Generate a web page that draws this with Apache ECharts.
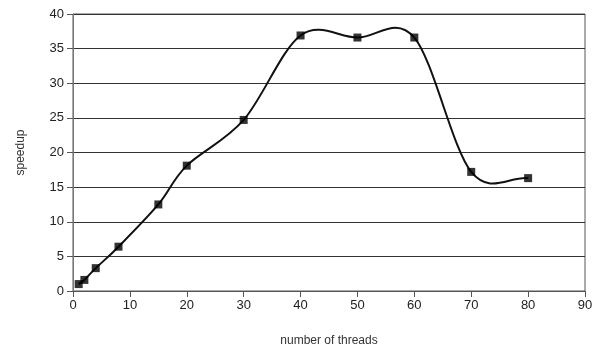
<!DOCTYPE html>
<html>
<head>
<meta charset="utf-8">
<script src="https://cdn.jsdelivr.net/npm/echarts@6/dist/echarts.min.js"></script>
<style>
  html, body { margin: 0; padding: 0; background: #fff; }
  #chart { width: 599px; height: 352px; }
</style>
</head>
<body>
<div id="chart"></div>
<script>
const threads = [1, 2, 4, 8, 15, 20, 30, 40, 50, 60, 70, 80];
const speedup = [1.0, 1.6, 3.3, 6.4, 12.5, 18.1, 24.7, 36.9, 36.6, 36.6, 17.2, 16.3];

const points = threads.map((t, i) => [t, speedup[i]]);

const chart = echarts.init(document.getElementById("chart"));

const labelFont = { fontFamily: "Liberation Sans, Arial, sans-serif", fontSize: 13, color: "#222" };
const nameFont = { fontFamily: "Liberation Sans, Arial, sans-serif", fontSize: 12, color: "#333" };

// spreadsheet-style smoothed line: one cubic segment per pair of points,
// control points from the neighbours (catmull-rom), in pixel space.
// ends use a mirrored phantom point
function renderSegment(params, api) {
  const i = params.dataIndex;
  const n = points.length;
  if (i >= n - 1) return;
  const p = (k) => {
    if (k < 0) {
      const a = api.coord(points[0]), b = api.coord(points[1]);
      return [2 * a[0] - b[0], 2 * a[1] - b[1]];
    }
    if (k > n - 1) {
      const a = api.coord(points[n - 1]), b = api.coord(points[n - 2]);
      return [2 * a[0] - b[0], 2 * a[1] - b[1]];
    }
    return api.coord(points[k]);
  };
  const p0 = p(i - 1), p1 = p(i), p2 = p(i + 1), p3 = p(i + 2);
  return {
    type: "bezierCurve",
    shape: {
      x1: p1[0], y1: p1[1],
      x2: p2[0], y2: p2[1],
      cpx1: p1[0] + (p2[0] - p0[0]) / 6,
      cpy1: p1[1] + (p2[1] - p0[1]) / 6,
      cpx2: p2[0] - (p3[0] - p1[0]) / 6,
      cpy2: p2[1] - (p3[1] - p1[1]) / 6,
    },
    style: { stroke: "#111", lineWidth: 2, fill: null },
  };
}

chart.setOption({
  animation: false,
  grid: {
    left: 73, right: 14, top: 14, bottom: 61,
    show: true, borderColor: "#555", borderWidth: 1,
  },
  xAxis: {
    type: "value",
    min: 0, max: 90, interval: 10,
    name: "number of threads",
    nameLocation: "middle",
    nameGap: 44,
    nameTextStyle: nameFont,
    axisLine: { show: true, lineStyle: { color: "#555" } },
    axisTick: { show: true, length: 6, lineStyle: { color: "#555" } },
    axisLabel: { ...labelFont, margin: 8 },
    splitLine: { show: false },
  },
  yAxis: {
    type: "value",
    min: 0, max: 40, interval: 5,
    name: "speedup",
    nameLocation: "middle",
    nameGap: 46,
    nameTextStyle: nameFont,
    axisLine: { show: true, lineStyle: { color: "#777" } },
    axisTick: { show: true, length: 6, lineStyle: { color: "#555" } },
    axisLabel: { ...labelFont, margin: 9 },
    splitLine: { show: true, lineStyle: { color: "#333", width: 1 } },
  },
  series: [
    {
      type: "custom",
      data: points,
      renderItem: renderSegment,
      z: 2,
    },
    {
      type: "scatter",
      data: points,
      symbol: "rect",
      symbolSize: 8,
      itemStyle: { color: "#000" },
      z: 3,
    },
  ],
});
</script>
</body>
</html>
